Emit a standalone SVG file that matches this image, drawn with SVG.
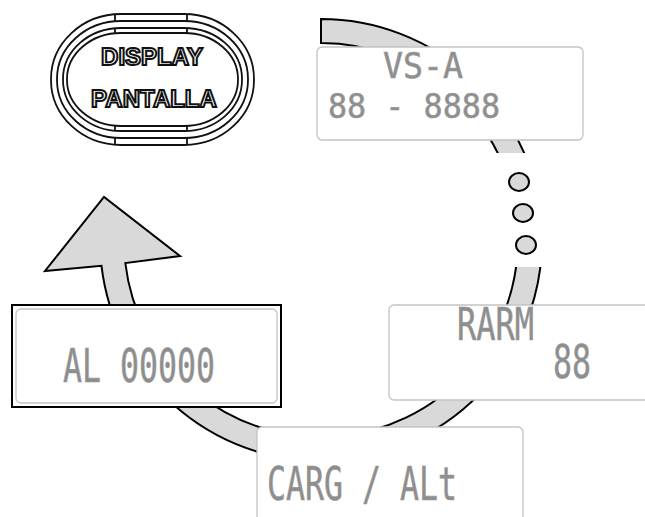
<svg xmlns="http://www.w3.org/2000/svg" width="645" height="517" viewBox="0 0 645 517">
<defs>
<style>
.band{fill:#d9d9d9;stroke:#000;stroke-width:2;stroke-linejoin:miter}
.dot{fill:#d9d9d9;stroke:#000;stroke-width:2}
.lcd{fill:#fff;stroke:#c4c4c4;stroke-width:1.3}
.seg{font-family:"DejaVu Sans Mono",monospace;fill:#8e8e8e;stroke:#9a9a9a;stroke-width:0.6}
.btn{fill:none;stroke:#111;stroke-width:1.8}
.btxt{font-family:"Liberation Sans",Arial,sans-serif;font-weight:bold;font-size:24px;fill:#fff;stroke:#111;stroke-width:2;text-anchor:middle}
</style>
</defs>
<rect width="645" height="517" fill="#fff"/>
<g id="connectors">
<path class="band" d="M321,19 A221,221 0 1 1 101.5,265.8 L45,271 L104,197 L180,256 L125.3,263 A197,197 0 1 0 321,43 Z"/>
<rect x="480" y="153" width="80" height="114" fill="#fff"/>
<ellipse class="dot" cx="519" cy="182" rx="10" ry="9"/>
<ellipse class="dot" cx="523" cy="213" rx="10" ry="9"/>
<ellipse class="dot" cx="526" cy="245" rx="10" ry="9"/>
</g>
<g id="button">
<rect class="btn" x="51" y="14" width="203" height="131" rx="70" ry="65"/>
<rect class="btn" x="57" y="21" width="191" height="117" rx="64" ry="58"/>
<rect class="btn" x="63" y="28" width="179" height="103" rx="58" ry="51"/>
<rect class="btn" x="67" y="33" width="171" height="93" rx="54" ry="46"/>
<path class="btn" d="M115,14V21M187,14V21M115,28V33M187,28V33M115,126V131M187,126V131M115,138V145M187,138V145"/>
<text class="btxt" x="152" y="65">DISPLAY</text>
<text class="btxt" x="154" y="107">PANTALLA</text>
</g>
<g id="node-vsa">
<rect class="lcd" x="317" y="47" width="266" height="93" rx="5"/>
<text class="seg" x="383" y="78" font-size="35" textLength="80" lengthAdjust="spacingAndGlyphs">VS-A</text>
<text class="seg" x="328" y="118" font-size="34" textLength="172" lengthAdjust="spacingAndGlyphs">88 - 8888</text>
</g>
<g id="node-rarm">
<rect class="lcd" x="389" y="305" width="280" height="95" rx="5"/>
<text class="seg" x="457" y="340" font-size="44" textLength="77" lengthAdjust="spacingAndGlyphs">RARM</text>
<text class="seg" x="553" y="378" font-size="47" textLength="38" lengthAdjust="spacingAndGlyphs">88</text>
</g>
<g id="node-carg">
<rect class="lcd" x="257" y="427" width="266" height="110" rx="5"/>
<text class="seg" x="267" y="500" font-size="47" textLength="190" lengthAdjust="spacingAndGlyphs">CARG / ALt</text>
</g>
<g id="node-al">
<rect x="12" y="305" width="269" height="102" fill="#fff" stroke="#000" stroke-width="2"/>
<rect class="lcd" x="16" y="309" width="261" height="94" rx="5"/>
<text class="seg" x="63" y="382" font-size="46" textLength="152" lengthAdjust="spacingAndGlyphs">AL 00000</text>
</g>
</svg>
